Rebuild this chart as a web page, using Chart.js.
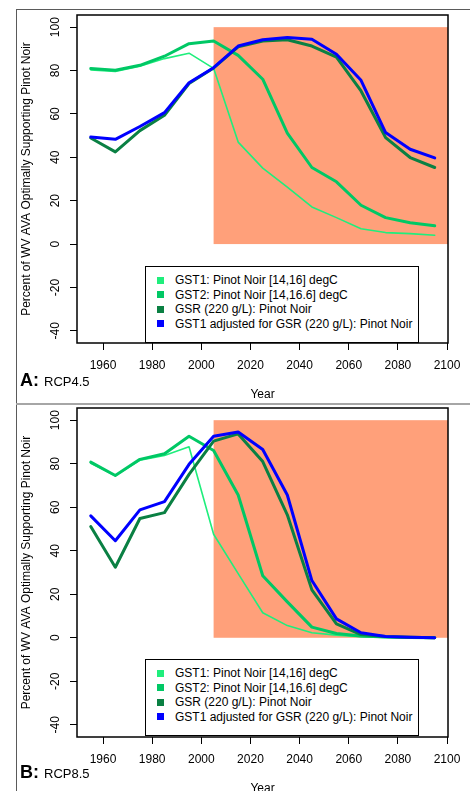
<!DOCTYPE html>
<html lang="en">
<head>
<meta charset="UTF-8" />
<title>Pinot Noir suitability in the WV AVA</title>
<script src="https://cdn.jsdelivr.net/npm/chart.js@4.4.1/dist/chart.umd.min.js"></script>
<style>
  html, body { margin: 0; padding: 0; background: #fff; overflow: hidden; }
  body { width: 470px; height: 791px; position: relative; font-family: "Liberation Sans", Arial, sans-serif; color: #000; }
  canvas { position: absolute; left: 0; }
  #chartA { top: 0; }
  #chartB { top: 404px; }
  /* frame around the two panels */
  .frame-top { position: absolute; left: 16px; top: 9px; width: 454px; height: 1px; background: #5a5a5a; }
  .frame-left { position: absolute; left: 16px; top: 9px; width: 1px; height: 782px; background: #5a5a5a; }
  .frame-sep { position: absolute; left: 16px; top: 403px; width: 454px; height: 2px; background: #a6a6a6; }
  /* legend box inside each plot */
  .legend { position: absolute; left: 145px; width: 272px; height: 69px; border: 1.5px solid #000; background: #fff;
            font-size: 12px; padding-top: 6px; box-sizing: content-box; }
  .legend .row { position: relative; height: 14.5px; line-height: 14.5px; padding-left: 29px; white-space: nowrap; }
  .legend .sw { position: absolute; left: 11px; top: 3.6px; width: 7px; height: 7px; }
  .panel-label { position: absolute; left: 20px; font-size: 18px; line-height: 18px; font-weight: bold; white-space: nowrap; }
  .panel-label span { font-size: 13px; font-weight: normal; }
</style>
</head>
<body>
<div class="frame-top"></div>
<div class="frame-left"></div>
<div class="frame-sep"></div>

<canvas id="chartA" width="470" height="404"></canvas>
<canvas id="chartB" width="470" height="400"></canvas>

<div class="panel-label" style="top:371px">A: <span>RCP4.5</span></div>
<div class="panel-label" style="top:763px">B: <span>RCP8.5</span></div>

<script>
// ---- data ----
const years = [1955, 1965, 1975, 1985, 1995, 2005, 2015, 2025, 2035, 2045, 2055, 2065, 2075, 2085, 2095];
const xTicks = [1960, 1980, 2000, 2020, 2040, 2060, 2080, 2100];
const yTicks = [-40, -20, 0, 20, 40, 60, 80, 100];
const seriesNames = [
  'GST1: Pinot Noir [14,16] degC',
  'GST2: Pinot Noir [14,16.6] degC',
  'GSR (220 g/L): Pinot Noir',
  'GST1 adjusted for GSR (220 g/L): Pinot Noir'
];

// A: RCP4.5
const rcp45Gst1 = [80.3, 79.6, 82.0, 85.5, 88.0, 81.0, 47.0, 35.0, 26.3, 17.1, 12.2, 7.1, 5.3, 4.8, 4.1];
const rcp45Gst2 = [80.9, 80.1, 82.4, 86.6, 92.4, 93.6, 87.0, 76.0, 51.2, 35.3, 28.7, 17.9, 12.2, 9.8, 8.4];
const rcp45Gsr = [48.9, 42.5, 52.3, 59.4, 74.0, 81.2, 90.9, 93.6, 94.2, 91.3, 86.2, 70.6, 49.1, 39.9, 35.3];
const rcp45Adj = [49.4, 48.3, 54.2, 60.6, 74.4, 81.3, 91.3, 94.2, 95.2, 94.4, 87.5, 75.5, 51.4, 43.7, 39.7];

// B: RCP8.5
const rcp85Gst1 = [80.2, 74.5, 81.6, 83.8, 87.8, 47.6, 29.5, 11.5, 5.6, 2.3, 1.2, 0.5, 0.2, 0.1, 0.0];
const rcp85Gst2 = [80.7, 74.6, 82.0, 84.6, 92.6, 86.1, 65.6, 28.5, 16.5, 4.9, 2.0, 0.8, 0.3, 0.1, 0.0];
const rcp85Gsr = [51.1, 32.4, 54.8, 57.5, 75.1, 90.4, 93.7, 81.0, 56.5, 22.0, 6.4, 1.5, 0.6, 0.2, 0.0];
const rcp85Adj = [56.0, 44.6, 58.8, 62.6, 79.7, 92.6, 94.6, 86.5, 65.6, 26.3, 8.7, 2.3, 0.6, 0.2, 0.0];

// shaded future period
const futureYears = [2005, 2101];
const futureRange = [0, 100];

// ---- styles ----
const colors = ['#1fee7c', '#00c865', '#0a8043', '#0000ff'];
const widths = [1.6, 3, 3, 3];
const fontFamily = "'Liberation Sans', Arial, sans-serif";

Chart.defaults.font.family = fontFamily;
Chart.defaults.font.size = 12;
Chart.defaults.color = '#000';

// salmon box + plot frame
const plotDecor = {
  id: 'plotDecor',
  beforeDatasetsDraw(chart) {
    const {ctx, chartArea, scales: {x, y}} = chart;
    ctx.save();
    ctx.beginPath();
    ctx.rect(chartArea.left, chartArea.top, chartArea.width, chartArea.height);
    ctx.clip();
    const x0 = x.getPixelForValue(futureYears[0]);
    const x1 = x.getPixelForValue(futureYears[1]);
    const y0 = y.getPixelForValue(futureRange[1]);
    const y1 = y.getPixelForValue(futureRange[0]);
    ctx.fillStyle = '#ffa07a';
    ctx.fillRect(x0, y0, x1 - x0, y1 - y0);
    ctx.restore();
  },
  afterDatasetsDraw(chart) {
    const {ctx, chartArea} = chart;
    ctx.save();
    ctx.strokeStyle = '#000';
    ctx.lineWidth = 1.5;
    ctx.strokeRect(chartArea.left, chartArea.top, chartArea.width, chartArea.height);
    ctx.restore();
  }
};

function makePanel(canvasId, series, padTop, padBottom) {
  const datasets = series.map((vals, i) => ({
    label: seriesNames[i],
    data: vals.map((v, j) => ({x: years[j], y: v})),
    borderColor: colors[i],
    backgroundColor: colors[i],
    borderWidth: widths[i],
    pointRadius: 0,
    tension: 0,
    borderJoinStyle: 'round',
    borderCapStyle: 'round',
    order: series.length - i
  }));

  return new Chart(document.getElementById(canvasId), {
    type: 'line',
    data: {datasets},
    plugins: [plotDecor],
    options: {
      responsive: false,
      animation: false,
      devicePixelRatio: 1,
      layout: {padding: {left: 16, right: 22, top: padTop, bottom: padBottom}},
      plugins: {legend: {display: false}, tooltip: {enabled: false}},
      scales: {
        x: {
          type: 'linear',
          min: 1949.4,
          max: 2100.4,
          afterBuildTicks: (s) => { s.ticks = xTicks.map(v => ({value: v})); },
          afterFit: (s) => { s.height = 61; s.paddingLeft = 0; s.paddingRight = 0; },
          ticks: {autoSkip: false, maxRotation: 0, padding: 8.6, callback: (v) => String(v)},
          grid: {drawOnChartArea: false, tickLength: 7, tickColor: '#000', lineWidth: 1},
          border: {display: false},
          title: {display: true, text: 'Year', padding: {top: 0, bottom: 2}}
        },
        y: {
          type: 'linear',
          min: -45.6,
          max: 105.6,
          afterBuildTicks: (s) => { s.ticks = yTicks.map(v => ({value: v})); },
          afterFit: (s) => { s.width = 61; s.paddingTop = 0; s.paddingBottom = 0; },
          ticks: {autoSkip: false, minRotation: 90, maxRotation: 90, crossAlign: 'center', padding: 4.6},
          grid: {drawOnChartArea: false, tickLength: 7, tickColor: '#000', lineWidth: 1},
          border: {display: false},
          title: {display: true, text: 'Percent of WV AVA Optimally Supporting Pinot Noir', padding: {top: 3, bottom: 0}}
        }
      }
    }
  });
}

function makeLegend(top) {
  const box = document.createElement('div');
  box.className = 'legend';
  box.style.top = top + 'px';
  seriesNames.forEach((name, i) => {
    const row = document.createElement('div');
    row.className = 'row';
    const sw = document.createElement('span');
    sw.className = 'sw';
    sw.style.background = colors[i];
    row.appendChild(sw);
    row.appendChild(document.createTextNode(name));
    box.appendChild(row);
  });
  document.body.appendChild(box);
}

makePanel('chartA', [rcp45Gst1, rcp45Gst2, rcp45Gsr, rcp45Adj], 15, 0);
makePanel('chartB', [rcp85Gst1, rcp85Gst2, rcp85Gsr, rcp85Adj], 4, 6);
makeLegend(266);
makeLegend(659);
</script>
</body>
</html>
